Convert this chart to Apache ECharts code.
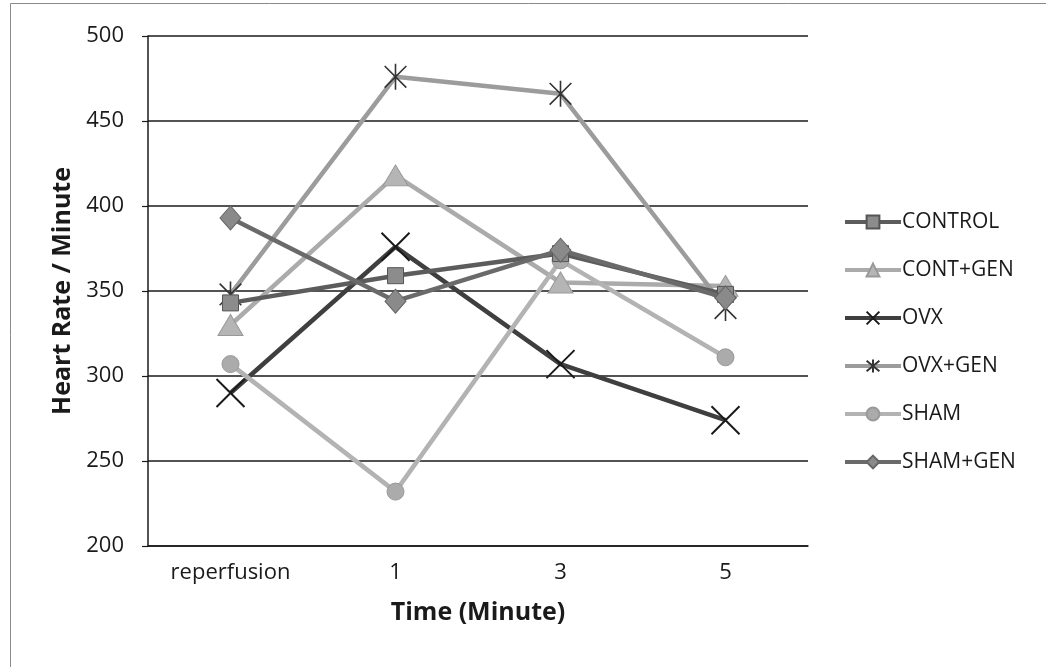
<!DOCTYPE html>
<html>
<head>
<meta charset="utf-8">
<script src="https://cdn.jsdelivr.net/npm/echarts@6/dist/echarts.min.js"></script>
<style>
html,body{margin:0;padding:0;background:#fff;}
#chart{width:1046px;height:667px;}
</style>
</head>
<body>
<div id="chart"></div>
<script>
const categories = ['reperfusion', '1', '3', '5'];
const seriesNames = ['CONTROL', 'CONT+GEN', 'OVX', 'OVX+GEN', 'SHAM', 'SHAM+GEN'];
const control  = [343, 359, 372, 348];
const contGen  = [330, 418, 355, 353];
const ovx      = [290, 376, 307, 274];
const ovxGen   = [348, 476, 466, 340];
const sham     = [307, 232, 368, 311];
const shamGen  = [393, 344, 374, 346];
const yTicks = [200, 250, 300, 350, 400, 450, 500];

const FONT = '"Open Sans", "Liberation Sans", sans-serif';

function mk(name, data, opts) {
  return Object.assign({
    name: name,
    type: 'line',
    data: data,
    symbolKeepAspect: true,
    lineStyle: { width: 4.5, color: opts.line },
    emphasis: { disabled: true },
    z: opts.z || 2
  }, opts.extra);
}

const series = [
  mk(seriesNames[0], control, { line: '#5c5c5c', z: 3, extra: {
    symbol: 'rect', symbolSize: 16,
    itemStyle: { color: '#8c8c8c', borderColor: '#555', borderWidth: 1 } } }),
  mk(seriesNames[1], contGen, { line: '#ababab', extra: {
    symbol: 'triangle', symbolSize: [25, 21],
    itemStyle: { color: '#b5b5b5', borderColor: '#999', borderWidth: 1 } } }),
  mk(seriesNames[2], ovx, { line: '#3f3f3f', extra: {
    symbol: 'path://M0,0L20,20M20,0L0,20', symbolSize: 28,
    itemStyle: { color: 'none', borderColor: '#1a1a1a', borderWidth: 2 } } }),
  mk(seriesNames[3], ovxGen, { line: '#9c9c9c', extra: {
    symbol: 'path://M0,0L20,20M20,0L0,20M10,-2L10,22', symbolSize: 26,
    itemStyle: { color: 'none', borderColor: '#333', borderWidth: 1.6 } } }),
  mk(seriesNames[4], sham, { line: '#b3b3b3', extra: {
    symbol: 'circle', symbolSize: 17,
    itemStyle: { color: '#ababab', borderColor: '#999', borderWidth: 1 } } }),
  mk(seriesNames[5], shamGen, { line: '#6a6a6a', z: 3, extra: {
    symbol: 'diamond', symbolSize: [21, 24],
    itemStyle: { color: '#8a8a8a', borderColor: '#666', borderWidth: 1 } } })
];

const chart = echarts.init(document.getElementById('chart'), null, { renderer: 'canvas' });
chart.setOption({
  animation: false,
  backgroundColor: '#fff',
  textStyle: { fontFamily: FONT },
  graphic: [{
    type: 'rect', shape: { x: 10.5, y: 3.5, width: 1040, height: 700 },
    style: { fill: 'none', stroke: '#8a8a8a', lineWidth: 1 }, silent: true
  }],
  grid: { left: 148, right: 238, top: 36, bottom: 121 },
  legend: {
    orient: 'vertical',
    left: 843, top: 210, padding: 0,
    itemWidth: 56, itemHeight: 16, itemGap: 24,
    lineStyle: { width: 4 },
    textStyle: { fontFamily: FONT, fontSize: 21, color: '#1a1a1a', lineHeight: 24, padding: [0,0,0,-4] },
    data: seriesNames
  },
  xAxis: {
    type: 'category',
    data: categories,
    boundaryGap: true,
    axisLine: { lineStyle: { color: '#1a1a1a', width: 1.5 } },
    axisTick: { show: false },
    axisLabel: { fontSize: 22, color: '#1a1a1a', margin: 16, fontFamily: FONT },
    name: 'Time (Minute)',
    nameLocation: 'middle',
    nameGap: 54,
    nameTextStyle: { fontSize: 25, fontWeight: 'bold', color: '#1a1a1a', fontFamily: FONT }
  },
  yAxis: {
    type: 'value',
    min: yTicks[0], max: yTicks[yTicks.length - 1], interval: 50,
    axisLine: { show: true, lineStyle: { color: '#1a1a1a', width: 1.5 } },
    axisTick: { show: true, length: 6, lineStyle: { color: '#1a1a1a', width: 1.2 } },
    axisLabel: { fontSize: 22, color: '#1a1a1a', margin: 24, fontFamily: FONT },
    splitLine: { lineStyle: { color: '#1a1a1a', width: 1.5 } },
    name: 'Heart Rate / Minute',
    nameLocation: 'middle',
    nameGap: 72,
    nameTextStyle: { fontSize: 25, fontWeight: 'bold', color: '#1a1a1a', fontFamily: FONT }
  },
  series: series
});
</script>
</body>
</html>
